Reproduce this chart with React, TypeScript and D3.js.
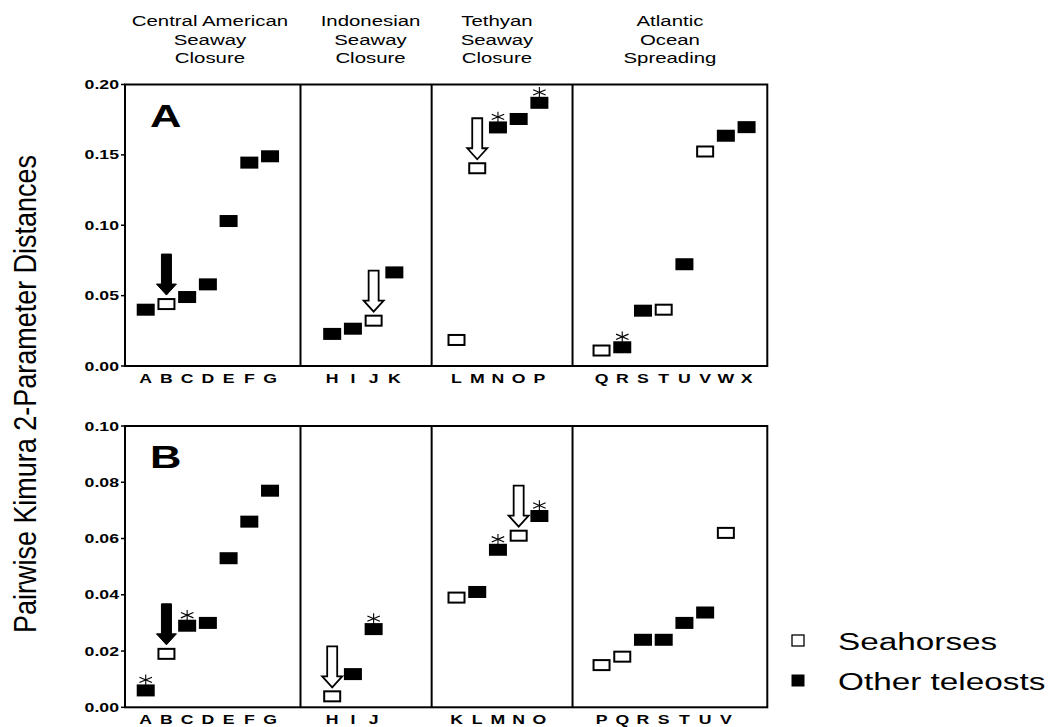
import React from 'react';
import * as d3 from 'd3';

const W = 1052;
const H = 727;
const SX = 1.36; // the original figure is stretched sideways
const FONT = '"Liberation Sans", Arial, Helvetica, sans-serif';

const regions = [
  ['Central American', 'Seaway', 'Closure'],
  ['Indonesian', 'Seaway', 'Closure'],
  ['Tethyan', 'Seaway', 'Closure'],
  ['Atlantic', 'Ocean', 'Spreading'],
];

// panel A (mtDNA)
const taxaA = [
  ['A', 'B', 'C', 'D', 'E', 'F', 'G'],
  ['H', 'I', 'J', 'K'],
  ['L', 'M', 'N', 'O', 'P'],
  ['Q', 'R', 'S', 'T', 'U', 'V', 'W', 'X'],
];
const distA = [
  [0.040, 0.044, 0.049, 0.058, 0.103, 0.1445, 0.149],
  [0.0228, 0.0265, 0.0322, 0.0665],
  [0.0185, 0.1405, 0.1695, 0.1755, 0.187],
  [0.011, 0.0133, 0.0393, 0.040, 0.0723, 0.1524, 0.1636, 0.1697],
];
const seahorseA = ['B', 'J', 'L', 'M', 'Q', 'T', 'V'];
const starA = ['N', 'P', 'R'];
const arrowA = [['B', 'filled'], ['J', 'open'], ['M', 'open']];
const ticksA = [0, 0.05, 0.10, 0.15, 0.20];

// panel B
const taxaB = [
  ['A', 'B', 'C', 'D', 'E', 'F', 'G'],
  ['H', 'I', 'J'],
  ['K', 'L', 'M', 'N', 'O'],
  ['P', 'Q', 'R', 'S', 'T', 'U', 'V'],
];
const distB = [
  [0.006, 0.019, 0.029, 0.030, 0.053, 0.066, 0.077],
  [0.0039, 0.0118, 0.0278],
  [0.039, 0.041, 0.056, 0.061, 0.068],
  [0.015, 0.018, 0.024, 0.024, 0.030, 0.0337, 0.062],
];
const seahorseB = ['B', 'H', 'K', 'N', 'P', 'Q', 'V'];
const starB = ['A', 'C', 'J', 'M', 'O'];
const arrowB = [['B', 'filled'], ['H', 'open'], ['N', 'open']];
const ticksB = [0, 0.02, 0.04, 0.06, 0.08, 0.10];

const legendItems = ['Seahorses', 'Other teleosts'];

// slot layout along x
const groupStart = [0, 9, 15, 22];
const groupBounds = [-1, 7.47, 13.8, 20.6, 30];
const headerSlot = [3.1, 10.85, 16.95, 25.3];

const x = d3.scaleLinear().domain([-1, 30]).range([125, 767.3]);
const fmt = d3.format('.2f');

const SText = ({ x: tx, y: ty, anchor = 'start', size, weight = 'normal', children }: any) => (
  <text
    transform={`translate(${tx},${ty}) scale(${SX},1)`}
    textAnchor={anchor}
    fontSize={size}
    fontWeight={weight}
    fontFamily={FONT}
    fill="#000"
  >
    {children}
  </text>
);

const Arrow = ({ cx, tip, filled }: any) => {
  const pts = [
    [cx - 5, tip - 41], [cx + 5, tip - 41], [cx + 5, tip - 11], [cx + 10, tip - 11],
    [cx, tip], [cx - 10, tip - 11], [cx - 5, tip - 11],
  ];
  return (
    <polygon
      points={pts.map(p => p.join(',')).join(' ')}
      fill={filled ? '#000' : '#fff'}
      stroke="#000"
      strokeWidth={filled ? 1 : 1.8}
      strokeLinejoin="miter"
    />
  );
};

const Star = ({ cx, cy }: any) => {
  const r = 5.3;
  const angles = [90, 30, 150];
  return (
    <g stroke="#000" strokeWidth={1.1}>
      {angles.map(a => {
        const dx = Math.cos((a * Math.PI) / 180) * r * SX;
        const dy = Math.sin((a * Math.PI) / 180) * r;
        return <line key={a} x1={cx - dx} y1={cy - dy} x2={cx + dx} y2={cy + dy} />;
      })}
    </g>
  );
};

const Panel = ({ label, top, bottom, yMax, ticks, taxa, dist, seahorse, star, arrows }: any) => {
  const y = d3.scaleLinear().domain([0, yMax]).range([bottom, top]);
  const points: any[] = [];
  taxa.forEach((grp: string[], gi: number) => {
    grp.forEach((t, i) => {
      points.push({ taxon: t, slot: groupStart[gi] + i, value: dist[gi][i] });
    });
  });
  const x0 = x(-1);
  const x1 = x(30);
  return (
    <g>
      {ticks.map((t: number) => (
        <g key={t}>
          <line x1={x0 - 4} x2={x0} y1={y(t)} y2={y(t)} stroke="#000" strokeWidth={1.5} />
          <SText x={x0 - 6} y={y(t) + 4.5} anchor="end" size={13} weight="bold">{fmt(t)}</SText>
        </g>
      ))}
      <rect x={x0} y={top} width={x1 - x0} height={bottom - top} fill="none" stroke="#000" strokeWidth={2} />
      {groupBounds.slice(1, -1).map(b => (
        <line key={b} x1={x(b)} x2={x(b)} y1={top} y2={bottom} stroke="#000" strokeWidth={2} />
      ))}
      <SText x={150} y={top + 42} size={32} weight="bold">{label}</SText>
      {points.map(p => (
        <SText key={p.taxon} x={x(p.slot)} y={bottom + 17} anchor="middle" size={13} weight="bold">{p.taxon}</SText>
      ))}
      {points.map(p => {
        const cx = x(p.slot);
        const cy = y(p.value);
        return seahorse.includes(p.taxon) ? (
          <rect key={p.taxon} x={cx - 8} y={cy - 5} width={16} height={10} fill="#fff" stroke="#000" strokeWidth={2} />
        ) : (
          <rect key={p.taxon} x={cx - 9} y={cy - 6} width={18} height={12} fill="#000" />
        );
      })}
      {points.filter(p => star.includes(p.taxon)).map(p => (
        <Star key={p.taxon} cx={x(p.slot)} cy={y(p.value) - 6 - 4.5} />
      ))}
      {arrows.map(([t, kind]: string[]) => {
        const p = points.find(q => q.taxon === t);
        return <Arrow key={t} cx={x(p.slot)} tip={y(p.value) - 6 - 3} filled={kind === 'filled'} />;
      })}
    </g>
  );
};

export default function App() {
  return (
    <svg width={W} height={H} style={{ position: 'absolute', left: 0, top: 0, background: '#fff' }}>
      <rect width={W} height={H} fill="#fff" />
      {regions.map((lines, i) => (
        <g key={i}>
          {lines.map((ln, j) => (
            <SText key={j} x={x(headerSlot[i])} y={26 + j * 18.7} anchor="middle" size={15}>{ln}</SText>
          ))}
        </g>
      ))}
      <text
        transform={`translate(36,394) scale(1.28,1) rotate(-90)`}
        textAnchor="middle"
        fontSize={25}
        fontFamily={FONT}
        textLength={478}
        lengthAdjust="spacingAndGlyphs"
      >
        Pairwise Kimura 2-Parameter Distances
      </text>
      <Panel label="A" top={84.5} bottom={366} yMax={0.2} ticks={ticksA}
        taxa={taxaA} dist={distA} seahorse={seahorseA} star={starA} arrows={arrowA} />
      <Panel label="B" top={426} bottom={707.3} yMax={0.1} ticks={ticksB}
        taxa={taxaB} dist={distB} seahorse={seahorseB} star={starB} arrows={arrowB} />
      <g>
        {legendItems.map((name, i) => {
          const cy = 641 + i * 40;
          return (
            <g key={name}>
              {i === 0 ? (
                <rect x={792} y={cy - 6} width={12} height={11} fill="#fff" stroke="#000" strokeWidth={1.3} />
              ) : (
                <rect x={791.5} y={cy - 6.5} width={13} height={12} fill="#000" />
              )}
              <SText x={838} y={cy + 9} size={24.5}>{name}</SText>
            </g>
          );
        })}
      </g>
    </svg>
  );
}
